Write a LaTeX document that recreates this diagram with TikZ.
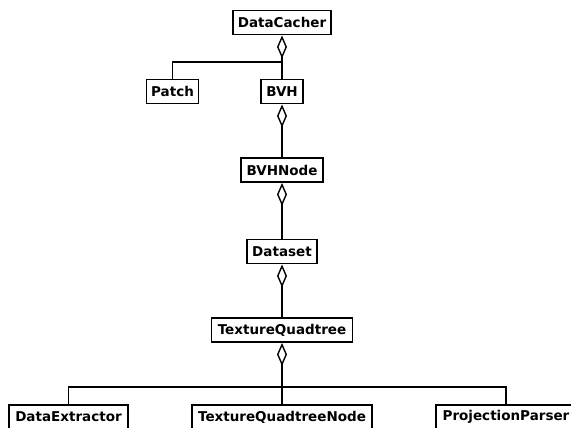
\documentclass[tikz,border=0pt]{standalone}
\usepackage{fontspec}
\setmainfont{DejaVu Sans}
\usetikzlibrary{arrows.meta}
\begin{document}
\begin{tikzpicture}[x=1pt,y=-1pt,
  cls/.style={draw=black, line width=1.9pt, fill=white, inner sep=0pt,
    minimum height=24pt, font=\fontsize{13.5}{15}\selectfont\bfseries, anchor=center},
  conn/.style={line width=1.7pt, draw=black},
  agg/.style={conn, -{Diamond[open, length=23pt, width=10pt, line width=1.4pt]}}
]
\useasboundingbox (0,0) rectangle (571,428);
\node[cls, minimum width=98pt] (dc) at (282,22.5) {DataCacher};
\node[cls, minimum width=52pt] (patch) at (172.5,91.5) {Patch};
\node[cls, minimum width=42pt] (bvh) at (282,91.5) {BVH};
\node[cls, minimum width=82pt] (bvhn) at (282,170) {BVHNode};
\node[cls, minimum width=70pt] (ds) at (282,251.5) {Dataset};
\node[cls, minimum width=141pt] (tq) at (282,330) {TextureQuadtree};
\node[cls, minimum width=119pt] (de) at (68.5,417) {DataExtractor};
\node[cls, minimum width=180pt] (tqn) at (282,417) {TextureQuadtreeNode};
\node[cls, minimum width=140pt] (pp) at (506,417) {ProjectionParser};
\coordinate (j1) at (282,62);
\coordinate (j2) at (282,387);
\draw[agg] (bvh.north) -- (dc.south);
\draw[conn] (patch.north) |- (j1);
\draw[agg] (bvhn.north) -- (bvh.south);
\draw[agg] (ds.north) -- (bvhn.south);
\draw[agg] (tq.north) -- (ds.south);
\draw[agg] (tqn.north) -- (tq.south);
\draw[conn] (de.north) |- (j2) -| (pp.north);
\end{tikzpicture}
\end{document}
